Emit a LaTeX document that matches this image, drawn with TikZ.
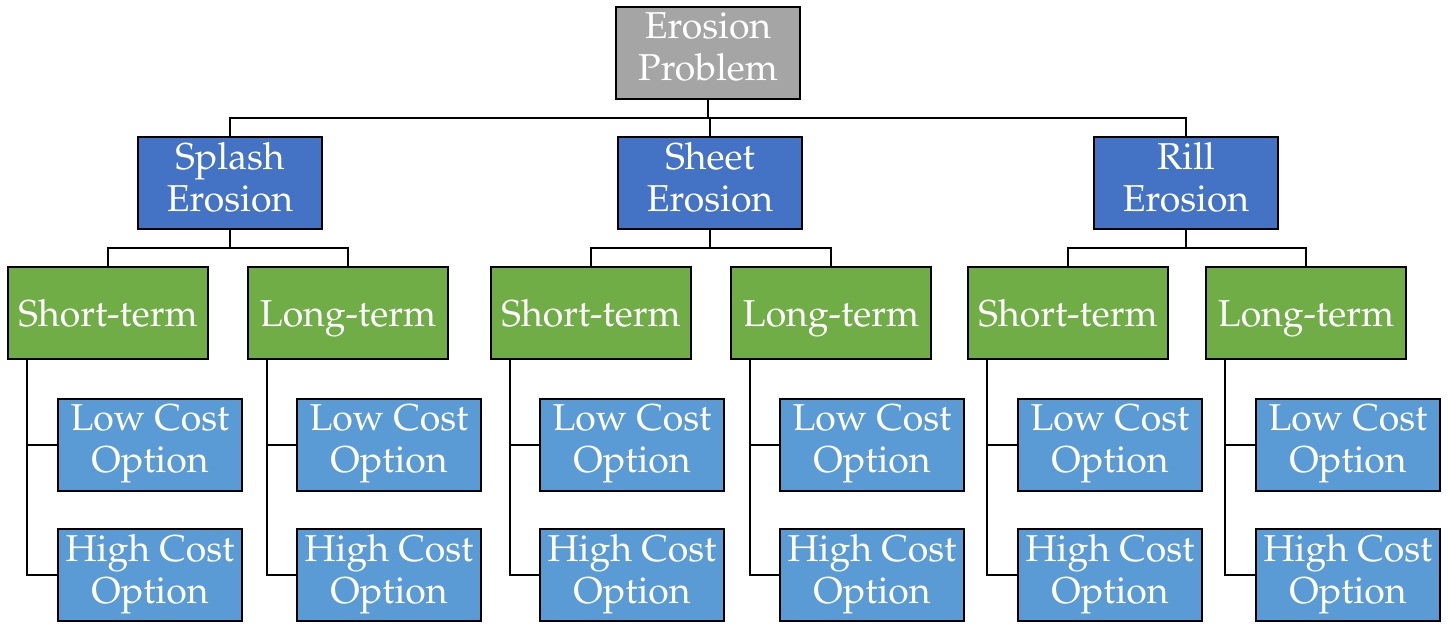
\documentclass[tikz,border=0pt]{standalone}
\usepackage[T1]{fontenc}
\usepackage{mathpazo}
\definecolor{rootgray}{HTML}{A5A5A5}
\definecolor{darkblue}{HTML}{4472C4}
\definecolor{leafgreen}{HTML}{70AD47}
\definecolor{lightblue}{HTML}{5B9BD5}
\newcommand{\topstrut}{\rule{0pt}{19.8pt}}
\newcommand{\botstrut}{\rule[-6.3pt]{0pt}{1pt}}
\begin{document}
\begin{tikzpicture}[x=0.5pt,y=-0.5pt,
  box/.style={draw=black,line width=1pt,text=white,align=center,inner sep=0pt,
    font=\fontsize{18.7}{21}\selectfont,minimum height=46pt,
    execute at begin node=\topstrut, execute at end node=\botstrut},
  rootbox/.style={box,fill=rootgray,minimum width=92pt},
  catbox/.style={box,fill=darkblue,minimum width=92pt},
  termbox/.style={box,fill=leafgreen,minimum width=100pt},
  optbox/.style={box,fill=lightblue,minimum width=92pt},
  link/.style={line width=1pt,draw=black}]
\useasboundingbox (0,0) rectangle (1453,624);
\node[rootbox] (root) at (708,53) {Erosion\\Problem};
\node[catbox] (c1) at (230,183) {Splash\\Erosion};
\node[catbox] (c2) at (710,183) {Sheet\\Erosion};
\node[catbox] (c3) at (1186,183) {Rill\\Erosion};
\coordinate (j0) at (708,118);
\draw[link] (root.south) -- (j0);
\draw[link] (c1.north) |- (j0) -| (c3.north);
\draw[link] (c2.north) -- (c2.north |- j0);
% terms
\foreach \c/\a/\b/\la/\lb/\i in {c1/108/348/150/389/1, c2/591/831/632/872/2, c3/1068/1306/1110/1348/3}{
  \node[termbox] (s\i) at (\a,313) {Short-term};
  \node[termbox] (l\i) at (\b,313) {Long-term};
  \coordinate (j\i) at (\a,248);
  \draw[link] (\c.south) -- (\c.south |- j\i);
  \draw[link] (s\i.north) |- (j\i) -- (\b,248) -- (l\i.north);
  \node[optbox] (sl\i) at (\la,445) {Low Cost\\Option};
  \node[optbox] (sh\i) at (\la,575) {High Cost\\Option};
  \node[optbox] (ll\i) at (\lb,445) {Low Cost\\Option};
  \node[optbox] (lh\i) at (\lb,575) {High Cost\\Option};
  \coordinate (vs\i) at ([xshift=10pt]s\i.south west);
  \coordinate (vl\i) at ([xshift=10pt]l\i.south west);
  \draw[link] (vs\i) |- (sh\i.west);
  \draw[link] (sl\i.west) -- (sl\i.west -| vs\i);
  \draw[link] (vl\i) |- (lh\i.west);
  \draw[link] (ll\i.west) -- (ll\i.west -| vl\i);
}
\end{tikzpicture}
\end{document}
